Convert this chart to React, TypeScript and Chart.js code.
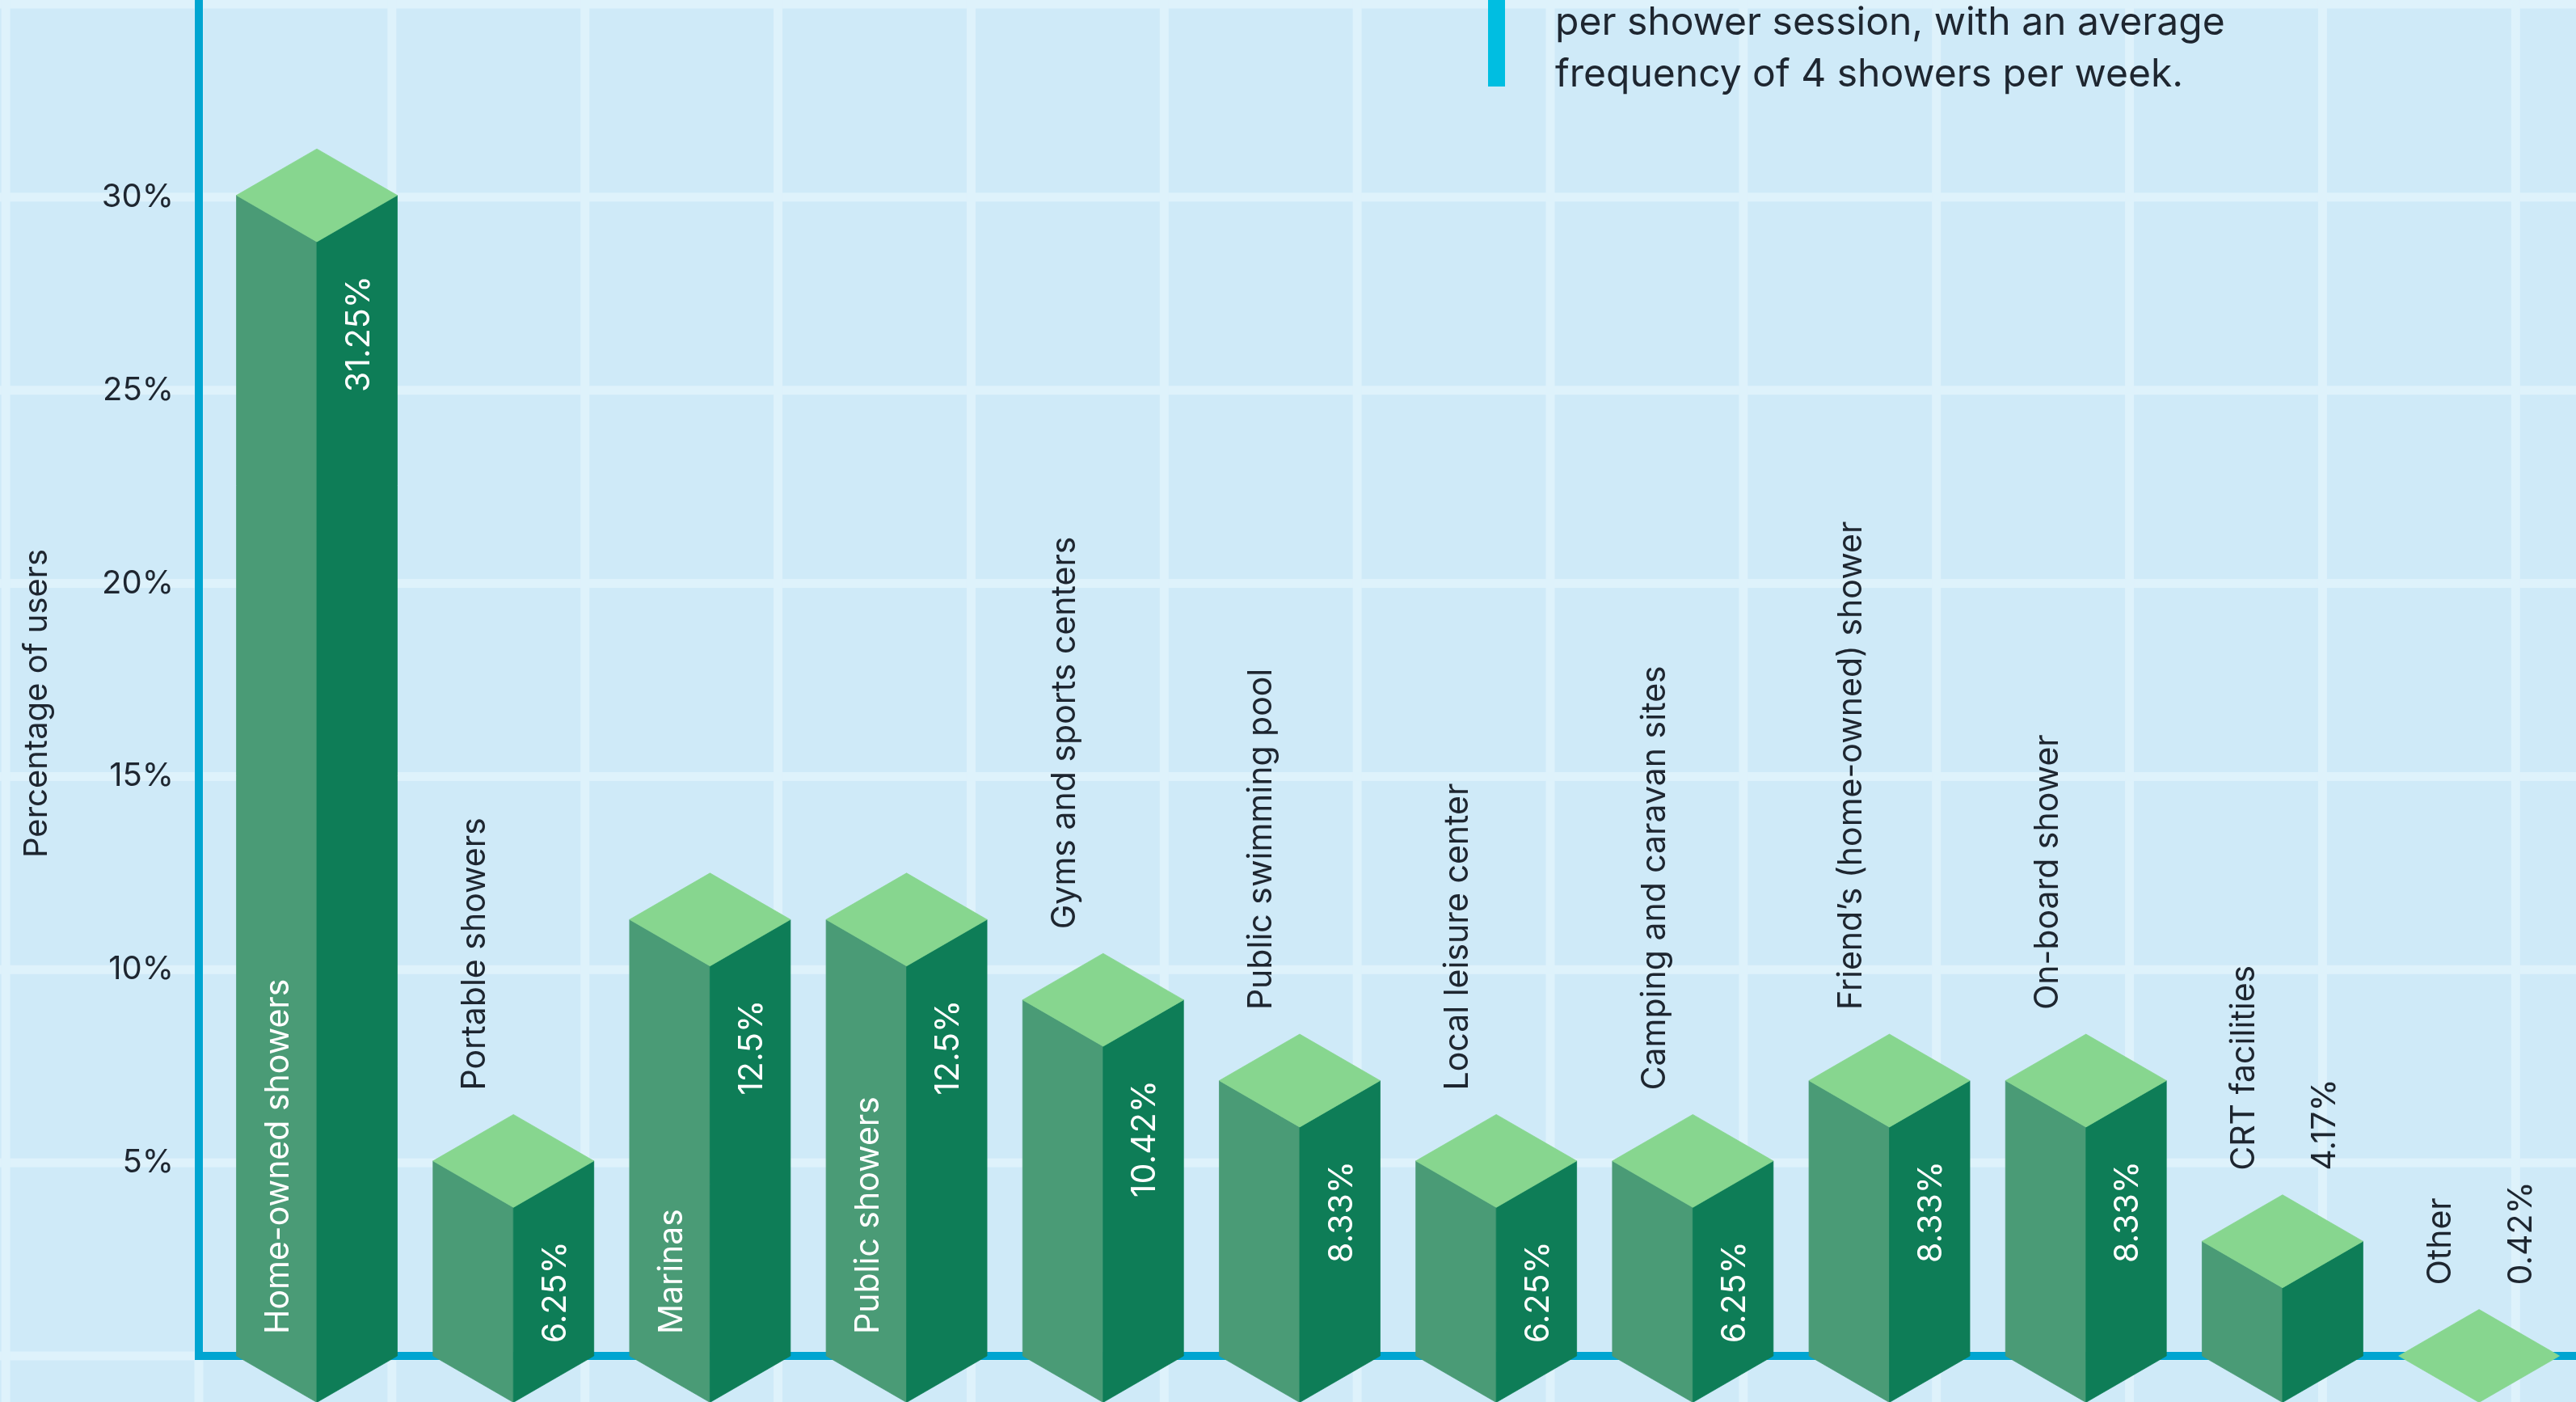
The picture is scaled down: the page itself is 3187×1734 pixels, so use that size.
import React, { useEffect, useRef } from 'react';
import { Chart, registerables } from 'chart.js';

Chart.register(...registerables);

// ---------- data ----------
const categories = [
  'Home-owned showers',
  'Portable showers',
  'Marinas',
  'Public showers',
  'Gyms and sports centers',
  'Public swimming pool',
  'Local leisure center',
  'Camping and caravan sites',
  'Friend\u2019s (home-owned) shower',
  'On-board shower',
  'CRT facilities',
  'Other',
];
const values = [31.25, 6.25, 12.5, 12.5, 10.42, 8.33, 6.25, 6.25, 8.33, 8.33, 4.17, 0.42];
const yTickValues = [5, 10, 15, 20, 25, 30];
const yAxisTitle = 'Percentage of users';
const noteLines = ['per shower session, with an average', 'frequency of 4 showers per week.'];

// ---------- styles ----------
const W = 3187;
const H = 1734;
const FONT = 'Inter, "Noto Sans", sans-serif';
const LABEL_SIZE = 41;
const TICK_SIZE = 40;
const CAP = 0.727;
const C = {
  bg: '#cfeaf8',
  grid: '#def2fb',
  axis: '#00a5d1',
  note: '#00bee1',
  text: '#1e2630',
  left: '#4a9b76',
  right: '#0e7d57',
  top: '#87d68f',
  white: '#ffffff',
};

function vText(ctx: CanvasRenderingContext2D, text: string, cx: number, cy: number, align: CanvasTextAlign, color: string, size: number) {
  ctx.save();
  ctx.font = `400 ${size}px ${FONT}`;
  ctx.translate(cx + (size * CAP) / 2, cy);
  ctx.rotate(-Math.PI / 2);
  ctx.textAlign = align;
  ctx.textBaseline = 'alphabetic';
  ctx.fillStyle = color;
  ctx.fillText(text, 0, 0);
  ctx.restore();
}

function poly(ctx: CanvasRenderingContext2D, pts: number[][], color: string) {
  ctx.beginPath();
  ctx.moveTo(pts[0][0], pts[0][1]);
  for (let i = 1; i < pts.length; i++) ctx.lineTo(pts[i][0], pts[i][1]);
  ctx.closePath();
  ctx.fillStyle = color;
  ctx.strokeStyle = color;
  ctx.lineWidth = 0.8;
  ctx.fill();
  ctx.stroke();
}

const prismPlugin = {
  id: 'prismPlugin',
  beforeDraw(chart: any) {
    const { ctx, chartArea } = chart;
    const ys = chart.scales.y;
    const y0 = ys.getPixelForValue(0);
    const step = y0 - ys.getPixelForValue(5);
    const x0 = chartArea.left;
    ctx.save();
    ctx.fillStyle = C.bg;
    ctx.fillRect(0, 0, W, H);
    ctx.fillStyle = C.grid;
    const lw = 11;
    let yy = y0 + Math.ceil((H - y0) / step) * step;
    for (; yy > -lw; yy -= step) ctx.fillRect(0, yy - lw / 2, W, lw);
    let xx = x0 - Math.ceil(x0 / step) * step;
    for (; xx < W + lw; xx += step) ctx.fillRect(xx - lw / 2, 0, lw, H);
    ctx.restore();
  },
  afterDatasetsDraw(chart: any) {
    const { ctx } = chart;
    const meta = chart.getDatasetMeta(0);
    ctx.save();
    meta.data.forEach((el: any, i: number) => {
      const { x, y, base, width } = el.getProps(['x', 'y', 'base', 'width'], true);
      const hw = width / 2;
      const dh = hw * Math.tan(Math.PI / 6);
      const side = Math.min(y + dh, base);
      const topV = side - dh;
      const front = side + dh;
      if (base - side > 0.5) {
        poly(ctx, [[x - hw, side], [x, front], [x, base + dh], [x - hw, base]], C.left);
        poly(ctx, [[x + hw, side], [x, front], [x, base + dh], [x + hw, base]], C.right);
      }
      poly(ctx, [[x, topV], [x + hw, side], [x, front], [x - hw, side]], C.top);

      // labels
      ctx.font = `400 ${LABEL_SIZE}px ${FONT}`;
      const cat = categories[i];
      const val = `${values[i]}%`;
      const catW = ctx.measureText(cat).width;
      const valW = ctx.measureText(val).width;
      const aboveY = topV - 30;
      const leftFaceTop = side + dh / 2;
      if (catW + 60 < base - leftFaceTop) {
        vText(ctx, cat, x - hw / 2, base - 27, 'left', C.white, LABEL_SIZE);
      } else {
        vText(ctx, cat, x - hw / 2, aboveY, 'left', C.text, LABEL_SIZE);
      }
      if (front + 42 + valW + 6 < base) {
        vText(ctx, val, x + hw / 2, front + 42, 'right', C.white, LABEL_SIZE);
      } else {
        vText(ctx, val, x + hw / 2, aboveY, 'left', C.text, LABEL_SIZE);
      }
    });
    ctx.restore();
  },
  afterDraw(chart: any) {
    const { ctx } = chart;
    ctx.save();
    // y axis title
    ctx.font = `400 ${TICK_SIZE}px ${FONT}`;
    ctx.fillStyle = C.text;
    ctx.translate(58, 870);
    ctx.rotate(-Math.PI / 2);
    ctx.textAlign = 'center';
    ctx.textBaseline = 'alphabetic';
    ctx.fillText(yAxisTitle, 0, 0);
    ctx.restore();

    // annotation note (cut by the top edge)
    ctx.save();
    ctx.fillStyle = C.note;
    ctx.fillRect(1841, 0, 21, 107);
    ctx.fillStyle = C.text;
    ctx.font = `400 48px ${FONT}`;
    ctx.textAlign = 'left';
    ctx.textBaseline = 'alphabetic';
    noteLines.forEach((line, k) => ctx.fillText(line, 1924, 43 + k * 64));
    ctx.restore();
  },
};

export default function App() {
  const ref = useRef<HTMLCanvasElement>(null);
  useEffect(() => {
    document.body.style.margin = '0';
    const chart = new Chart(ref.current as HTMLCanvasElement, {
      type: 'bar',
      data: {
        labels: categories,
        datasets: [
          {
            label: yAxisTitle,
            data: values.map((v, i) => ({ x: i, y: v })),
            backgroundColor: 'rgba(0,0,0,0)',
            borderWidth: 0,
            barPercentage: 0.818,
            categoryPercentage: 1,
          },
        ],
      },
      options: {
        responsive: false,
        animation: false,
        devicePixelRatio: 1,
        layout: { padding: { top: 5, bottom: 57, left: 0, right: 0 } },
        plugins: { legend: { display: false }, tooltip: { enabled: false }, title: { display: false } },
        scales: {
          x: {
            type: 'linear',
            min: -0.6004,
            max: 11.493,
            offset: false,
            ticks: { display: false },
            grid: { display: false, drawTicks: false, offset: false },
            border: { display: true, color: C.axis, width: 10 },
            afterBuildTicks: (s: any) => {
              s.ticks = categories.map((_, i) => ({ value: i }));
            },
            afterFit: (s: any) => {
              s.height = 0;
              s.paddingLeft = 0;
              s.paddingRight = 0;
            },
          },
          y: {
            type: 'linear',
            min: 0,
            max: 35,
            ticks: {
              stepSize: 5,
              padding: 31,
              color: C.text,
              font: { family: FONT, size: TICK_SIZE, weight: 400 as any },
              callback: (v: any) => (yTickValues.includes(Number(v)) ? `${v}%` : null),
            },
            grid: { display: false, drawTicks: false },
            border: { display: true, color: C.axis, width: 10 },
            afterFit: (s: any) => {
              s.width = 246;
              s.paddingTop = 0;
              s.paddingBottom = 0;
            },
          },
        },
      },
      plugins: [prismPlugin],
    } as any);
    return () => chart.destroy();
  }, []);
  return (
    <div style={{ position: 'fixed', left: 0, top: 0, width: W, height: H, overflow: 'hidden' }}>
      <canvas ref={ref} width={W} height={H} style={{ width: W, height: H, display: 'block' }} />
    </div>
  );
}
